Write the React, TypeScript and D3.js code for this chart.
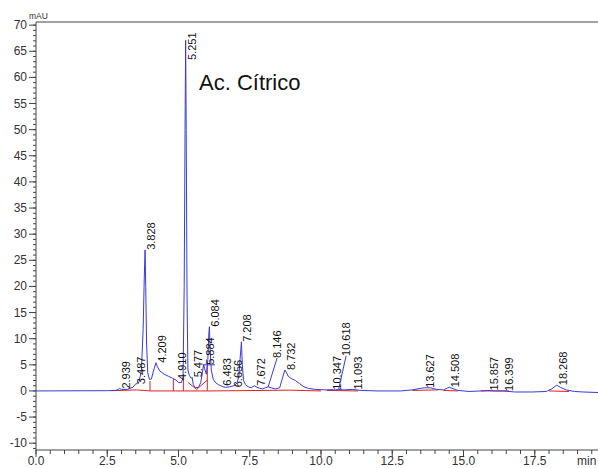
import React from "react";
import * as d3 from "d3";

// retention time (min) and detector signal (mAU) of the trace
const TIME = [
  0, 2.5, 2.8, 2.9, 2.939, 3.0, 3.2, 3.4, 3.487, 3.55, 3.62, 3.7, 3.76, 3.8, 3.828, 3.85, 3.88, 3.92, 3.98,
  4.05, 4.12, 4.209, 4.26, 4.35, 4.5, 4.65, 4.8, 4.91, 5.0, 5.1, 5.16, 5.2, 5.23, 5.251, 5.27, 5.3, 5.33,
  5.38, 5.45, 5.477, 5.52, 5.6, 5.7, 5.78, 5.84, 5.884, 5.93, 5.98, 6.03, 6.06, 6.084, 6.11, 6.15, 6.22,
  6.3, 6.4, 6.483, 6.56, 6.656, 6.8, 6.95, 7.05, 7.12, 7.16, 7.208, 7.24, 7.28, 7.35, 7.45, 7.55, 7.6,
  7.672, 7.75, 7.85, 7.95, 8.05, 8.146, 8.25, 8.4, 8.55, 8.65, 8.732, 8.78, 8.85, 8.95, 9.1, 9.25, 9.4,
  9.55, 9.8, 10.2, 10.347, 10.5, 10.618, 10.8, 11.093, 11.4, 12.0, 12.8, 13.2, 13.5, 13.627, 13.85, 14.05,
  14.3, 14.45, 14.508, 14.6, 14.8, 15.2, 15.6, 15.857, 16.1, 16.399, 16.8, 17.4, 17.9, 18.1, 18.268, 18.4,
  18.6, 18.9, 19.2, 19.72,
];
const SIGNAL = [
  0, 0.05, 0.1, 0.35, 0.45, 0.3, 0.3, 0.7, 1.3, 1.4, 1.8, 4.0, 12.0, 22.0, 27.0, 20.0, 9.0, 3.5, 2.2,
  2.3, 3.8, 5.4, 4.6, 3.8, 3.2, 2.8, 2.4, 2.1, 1.6, 1.6, 2.5, 20.0, 50.0, 67.1, 50.0, 18.0, 4.0,
  3.0, 2.4, 2.6, 1.2, 0.6, 0.7, 1.6, 3.6, 5.0, 4.0, 3.2, 6.0, 10.5, 12.3, 8.0, 4.0, 2.2,
  1.6, 1.2, 1.0, 0.8, 0.7, 0.8, 1.0, 1.5, 2.8, 6.0, 9.4, 5.0, 2.0, 1.2, 0.8, 0.6, 0.8,
  1.0, 0.7, 0.5, 0.4, 0.6, 0.8, 0.6, 0.4, 0.6, 2.5, 4.0, 3.6, 2.8, 2.4, 2.0, 1.4, 0.8,
  0.5, 0.3, 0.2, 0.25, 0.2, 0.3, 0.2, 0.3, 0.1, 0.0, 0.0, 0.2, 0.5, 0.6, 0.6, 0.3,
  0.2, 0.6, 0.7, 0.5, 0.1, -0.1, 0.0, 0.1, 0.0, 0.0, -0.2, -0.2, -0.1, 0.4, 1.1, 0.7,
  0.2, -0.1, -0.2, -0.3,
];

const PEAKS = [
  "2.939", "3.487", "3.828", "4.209", "4.910", "5.251", "5.477", "5.884", "6.084", "6.483", "6.656",
  "7.208", "7.672", "8.146", "8.732", "10.347", "10.618", "11.093", "13.627", "14.508", "15.857",
  "16.399", "18.268",
];

// labels moved off the peak, drawn with a leader line (time, mAU of label foot)
const LEADERS = [
  { peak: "8.146", t: 8.46, v: 6.3 },
  { peak: "10.618", t: 10.88, v: 6.7 },
];

// integration baselines and drop lines: [t1, v1, t2, v2]
const BASELINES = [
  [2.65, 0.05, 3.53, 0.2],
  [3.53, 0.2, 4.0, 0.0],
  [4.0, 0.0, 4.0, 1.9],
  [4.0, 0.0, 6.1, 0.0],
  [4.82, 0.0, 4.82, 2.3],
  [5.17, 0.0, 5.17, 2.3],
  [5.34, 1.6, 5.64, 0.3],
  [5.64, 0.3, 6.01, 2.1],
  [6.01, 0.0, 6.01, 5.0],
  [6.1, 0.0, 8.9, 0.15],
  [8.9, 0.15, 10.0, 0.0],
  [10.2, 0.1, 11.3, 0.0],
  [13.2, 0.1, 14.1, 0.2],
  [14.3, 0.1, 14.8, 0.0],
  [15.6, 0.0, 16.6, 0.0],
  [18.0, 0.0, 18.7, -0.1],
];
// tangent skim line on the 5.884 shoulder
const SKIM = [5.84, 5.0, 6.28, 5.0];

const W = 598;
const H = 468;
const FONT = "'Liberation Sans', Arial, sans-serif";

export default function App() {
  const x = d3.scaleLinear().domain([0, 20]).range([36, 606]);
  const y = d3.scaleLinear().domain([-11.3, 70.6]).range([450, 22]);
  const top = y(70.6);
  const bottom = y(-11.3);

  const pts = TIME.map((t, i) => [t, SIGNAL[i]] as [number, number]);
  const line = d3
    .line<[number, number]>()
    .x((d) => x(d[0]))
    .y((d) => y(d[1]));

  const apex = (t: number) => {
    let best = 0;
    TIME.forEach((tt, i) => {
      if (Math.abs(tt - t) < Math.abs(TIME[best] - t)) best = i;
    });
    return SIGNAL[best];
  };

  const yMajor = d3.range(-10, 71, 5);
  const yMinor = d3.range(-11, 71, 1);
  const xMajor = d3.range(0, 18, 2.5);
  const xMinor = d3.range(0, 19.8, 0.5);

  // place labels, pushing one right when it would sit on top of the previous one
  const placed: { x: number; y0: number; y1: number }[] = [];
  const labels = PEAKS.map((p) => {
    const t = +p;
    const leader = LEADERS.find((l) => l.peak === p);
    if (leader) {
      return { p, t, lx: x(leader.t) + 4, ly: y(leader.v), leader };
    }
    let lx = x(t) + 10;
    const ly = Math.max(y(apex(t)), top + 38);
    const len = p.length * 5.6;
    const prev = placed[placed.length - 1];
    if (prev && lx - prev.x < 10 && ly - len < prev.y1 && ly > prev.y0) lx = prev.x + 11;
    placed.push({ x: lx, y0: ly - len, y1: ly });
    return { p, t, lx, ly, leader: null as null | { t: number; v: number } };
  });

  return (
    <svg
      width={W}
      height={H}
      style={{ position: "absolute", left: 0, top: 0, background: "#fff" }}
      fontFamily={FONT}
    >
      {/* frame and axes */}
      <line x1={36} x2={W} y1={top} y2={top} stroke="#444" />
      <line x1={36} x2={36} y1={top} y2={bottom} stroke="#444" />
      <line x1={36} x2={W} y1={bottom} y2={bottom} stroke="#444" />

      {yMinor.map((v) => (
        <line key={"ym" + v} x1={33} x2={36} y1={y(v)} y2={y(v)} stroke="#444" />
      ))}
      {yMajor.map((v) => (
        <g key={"y" + v}>
          <line x1={29} x2={36} y1={y(v)} y2={y(v)} stroke="#444" />
          <text x={27} y={y(v) + 4} textAnchor="end" fontSize={12} fill="#333">
            {v}
          </text>
        </g>
      ))}
      {xMinor.map((t) => (
        <line key={"xm" + t} x1={x(t)} x2={x(t)} y1={bottom} y2={bottom + 4} stroke="#444" />
      ))}
      {xMajor.map((t) => (
        <g key={"x" + t}>
          <line x1={x(t)} x2={x(t)} y1={bottom} y2={bottom + 7} stroke="#444" />
          <text x={x(t)} y={465} textAnchor="middle" fontSize={12} fill="#333">
            {t.toFixed(1)}
          </text>
        </g>
      ))}
      <text x={577} y={465} fontSize={12} fill="#333">
        min
      </text>
      <text x={29} y={19} fontSize={8.5} fill="#333">
        mAU
      </text>

      {/* integration baselines */}
      {BASELINES.map((s, i) => (
        <line
          key={"b" + i}
          x1={x(s[0])}
          y1={y(s[1])}
          x2={x(s[2])}
          y2={y(s[3])}
          stroke="#e02020"
          strokeWidth={1}
        />
      ))}

      {/* trace */}
      <path d={line(pts) || ""} fill="none" stroke="#3a3ad8" strokeWidth={1} />
      <line
        x1={x(SKIM[0])}
        y1={y(SKIM[1])}
        x2={x(SKIM[2])}
        y2={y(SKIM[3])}
        stroke="#3a3ad8"
      />

      {/* peak labels */}
      {labels.map((l) => (
        <g key={l.p}>
          {l.leader && (
            <line
              x1={x(l.t)}
              y1={y(apex(l.t))}
              x2={x(l.leader.t)}
              y2={y(l.leader.v)}
              stroke="#3a3ad8"
            />
          )}
          <text
            transform={`translate(${l.lx},${l.ly}) rotate(-90)`}
            fontSize={11}
            fill="#111"
          >
            {l.p}
          </text>
        </g>
      ))}

      <text x={199} y={90} fontSize={22} fill="#111">
        Ac. Cítrico
      </text>
    </svg>
  );
}
